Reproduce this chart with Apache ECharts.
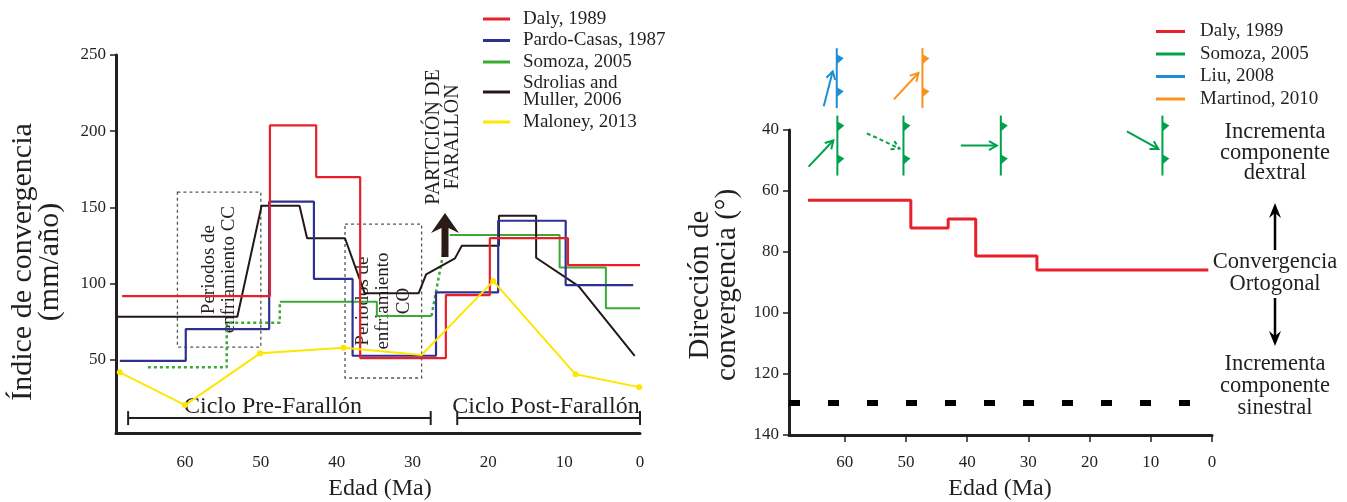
<!DOCTYPE html>
<html>
<head>
<meta charset="utf-8">
<script src="https://cdn.jsdelivr.net/npm/echarts@6/dist/echarts.min.js"></script>
<style>
  html, body { margin: 0; padding: 0; background: #fff; }
  #chart { width: 1347px; height: 502px; }
</style>
</head>
<body>
<div id="chart"></div>
<script>
// --- left panel: convergence rate (mm/año) vs age (Ma) ---
const DALY_RATE = [[68.3, 91.8], [48.8, 91.8], [48.8, 203.8], [42.7, 203.8], [42.7, 169.9], [36.9, 169.9],
  [36.9, 51.1], [25.6, 51.1], [25.6, 92.4], [19.8, 92.4], [19.8, 129.8], [9.5, 129.8], [9.5, 112.1], [0, 112.1]]
const PARDO_RATE = [[68.6, 49.3], [59.9, 49.3], [59.9, 70.1], [48.9, 70.1], [48.9, 153.7], [43.0, 153.7],
  [43.0, 103.0], [37.9, 103.0], [37.9, 52.6], [26.9, 52.6], [26.9, 94.2], [18.7, 94.2], [18.7, 141.2],
  [9.8, 141.2], [9.8, 99.0], [0.9, 99.0]]
const SOMOZA_SOLID_1 = [[47.5, 88.0], [34.7, 88.0], [34.7, 78.7], [27.5, 78.7]]
const SOMOZA_SOLID_2 = [[25.1, 131.8], [10.6, 131.8], [10.6, 110.6], [4.5, 110.6], [4.5, 83.7], [0, 83.7]]
const SOMOZA_DOTTED_1 = [[64.9, 45.0], [54.5, 45.0], [54.5, 74.3], [47.5, 74.3], [47.5, 88.0]]
const SOMOZA_DOTTED_2 = [[27.5, 78.7], [25.5, 131.8]]
const SDROLIAS_RATE = [[68.9, 78.2], [53.1, 78.2], [49.9, 151.1], [44.9, 151.1], [43.9, 129.7], [38.9, 129.7],
  [36.3, 93.6], [29.2, 93.6], [28.2, 106.0], [24.4, 116.5], [23.5, 124.8], [18.6, 124.8], [18.6, 144.5],
  [13.7, 144.5], [13.7, 116.9], [8.1, 98.3], [0.7, 52.6]]
const MALONEY_RATE = [[68.6, 41.7], [60.0, 20.2], [50.1, 54.2], [39.1, 57.8], [28.8, 53.1], [19.35, 101.6],
  [8.5, 40.4], [0.1, 32.0]]
const COOLING_CC = [[61.0, 160.0], [50.0, 58.3]]
const COOLING_CO = [[38.9, 139.0], [28.8, 38.0]]
const CYCLE_PRE = [[67.5, 11.7], [27.6, 11.7]]
const CYCLE_POST = [[24.1, 11.7], [0, 11.7]]
const RATE_TICKS = [50, 100, 150, 200, 250]
const AGE_TICKS = [0, 10, 20, 30, 40, 50, 60]

// --- right panel: convergence direction (°) vs age (Ma) ---
const DALY_DIR = [[66.0, 63], [49.2, 63], [49.2, 72.1], [43.1, 72.1], [43.1, 69.2], [38.6, 69.2],
  [38.6, 81.3], [28.6, 81.3], [28.6, 85.9], [0.6, 85.9]]
const SINESTRAL_LIMIT = [[69.1, 129.5], [-3.9, 129.5]]
const LIU_FAULTS = [[61.3, 23.0]]
const LIU_ANGLES = [75.5]
const MARTINOD_FAULTS = [[47.3, 23.0]]
const MARTINOD_ANGLES = [47]
const SOMOZA_FAULTS = [[61.2, 45.1], [50.4, 45.1], [34.5, 45.1], [8.1, 45.1]]
const SOMOZA_ANGLES = [46.5, -25, 0, -29]
const SOMOZA_DASHED = [false, true, false, false]

const FONT = '"Liberation Serif", "DejaVu Serif", serif'
const INK = '#231f20'
const C = {
  red: '#e8202a', blue: '#2e3192', green: '#3aaa35', black: '#231815', yellow: '#ffe600',
  green2: '#00a14b', liu: '#1c8fd6', orange: '#f7931e',
}

function faultRenderer(angles, dashed) {
  return function (params, api) {
    const p = api.coord([api.value(0), api.value(1)])
    const x = p[0], y = p[1]
    const color = api.visual('color')
    const a = angles[params.dataIndex] * Math.PI / 180
    const dash = dashed && dashed[params.dataIndex] ? [4, 3] : null
    const ux = Math.cos(a), uy = -Math.sin(a)
    const tx = x - 4, ty = y - 7 * Math.sin(a)
    const len = 36, h = 9, w = Math.PI / 6
    const rot = (vx, vy, t) => [vx * Math.cos(t) - vy * Math.sin(t), vx * Math.sin(t) + vy * Math.cos(t)]
    const b1 = rot(-ux, -uy, w), b2 = rot(-ux, -uy, -w)
    const tooth = (cy) => ({
      type: 'polygon',
      shape: { points: [[x, cy - 5], [x + 7, cy - 1], [x, cy + 5]] },
      style: { fill: color },
    })
    return {
      type: 'group',
      children: [
        { type: 'line', shape: { x1: x, y1: y - 30, x2: x, y2: y + 30 }, style: { stroke: color, lineWidth: 2 } },
        tooth(y - 19),
        tooth(y + 14),
        { type: 'line', shape: { x1: tx - len * ux, y1: ty - len * uy, x2: tx, y2: ty },
          style: { stroke: color, lineWidth: 2, lineDash: dash } },
        { type: 'polyline', shape: { points: [[tx + h * b1[0], ty + h * b1[1]], [tx, ty], [tx + h * b2[0], ty + h * b2[1]]] },
          style: { stroke: color, lineWidth: 2, fill: null, lineDash: dash } },
      ],
    }
  }
}

const lineBase = { type: 'line', symbol: 'none', xAxisIndex: 0, yAxisIndex: 0, z: 2 }
const axisText = { fontFamily: FONT, fontSize: 17, color: INK }
const blackLine = { onZero: false, lineStyle: { color: INK, width: 3 } }

const option = {
  animation: false,
  backgroundColor: '#fff',
  grid: [
    { left: 116, right: 707, top: 55, bottom: 69 },
    { left: 789, right: 135, top: 130, bottom: 67 },
  ],
  xAxis: [
    {
      gridIndex: 0, type: 'value', inverse: true, min: 0, max: 69.1, position: 'bottom',
      axisLine: blackLine, axisTick: { show: false }, splitLine: { show: false },
      axisLabel: { ...axisText, margin: 21, customValues: AGE_TICKS },
    },
    {
      gridIndex: 1, type: 'value', inverse: true, min: 0, max: 69.1, position: 'bottom',
      axisLine: blackLine, splitLine: { show: false },
      axisTick: { length: 7, lineStyle: { color: INK, width: 1.5 }, customValues: AGE_TICKS },
      axisLabel: { ...axisText, margin: 19, customValues: AGE_TICKS },
    },
  ],
  yAxis: [
    {
      gridIndex: 0, type: 'value', min: 1.9, max: 250, position: 'left',
      axisLine: { show: true, ...blackLine }, splitLine: { show: false },
      axisTick: { show: true, length: 6, lineStyle: { color: INK, width: 1.5 }, customValues: RATE_TICKS },
      axisLabel: { ...axisText, margin: 10, customValues: RATE_TICKS },
    },
    {
      gridIndex: 1, type: 'value', inverse: true, min: 40, max: 140, interval: 20, position: 'left',
      axisLine: { show: true, ...blackLine }, splitLine: { show: false },
      axisTick: { show: true, length: 6, lineStyle: { color: INK, width: 1.5 } },
      axisLabel: { ...axisText, margin: 10 },
    },
  ],
  legend: [
    {
      orient: 'vertical', left: 478, top: 4.5, icon: 'rect', itemWidth: 27, itemHeight: 3, itemGap: 2.5,
      textStyle: { fontFamily: FONT, fontSize: 19, lineHeight: 17, color: INK, padding: [0, 0, 0, 8] },
      data: ['Daly, 1989', 'Pardo-Casas, 1987', 'Somoza, 2005', 'Sdrolias and\nMuller, 2006', 'Maloney, 2013'],
    },
    {
      orient: 'vertical', left: 1151, top: 17, icon: 'rect', itemWidth: 29, itemHeight: 3, itemGap: 3.5,
      textStyle: { fontFamily: FONT, fontSize: 19, lineHeight: 19, color: INK, padding: [0, 0, 0, 10] },
      data: [
        { name: 'Daly, 1989', itemStyle: { color: C.red } },
        { name: 'Somoza, 2005', itemStyle: { color: C.green2 } },
        { name: 'Liu, 2008', itemStyle: { color: C.liu } },
        { name: 'Martinod, 2010', itemStyle: { color: C.orange } },
      ],
    },
  ],
  series: [
    { ...lineBase, name: 'Somoza, 2005', data: SOMOZA_SOLID_1, lineStyle: { color: C.green, width: 2 }, itemStyle: { color: C.green } },
    { ...lineBase, name: 'Somoza, 2005', data: SOMOZA_SOLID_2, lineStyle: { color: C.green, width: 2 }, itemStyle: { color: C.green } },
    { ...lineBase, name: 'Somoza, 2005', data: SOMOZA_DOTTED_1, lineStyle: { color: C.green, width: 2.5, type: [3, 3] }, itemStyle: { color: C.green } },
    { ...lineBase, name: 'Somoza, 2005', data: SOMOZA_DOTTED_2, lineStyle: { color: C.green, width: 2.5, type: [3, 3] }, itemStyle: { color: C.green } },
    { ...lineBase, name: 'Sdrolias and\nMuller, 2006', data: SDROLIAS_RATE, lineStyle: { color: C.black, width: 2 }, itemStyle: { color: C.black } },
    { ...lineBase, name: 'Pardo-Casas, 1987', data: PARDO_RATE, lineStyle: { color: C.blue, width: 2.2 }, itemStyle: { color: C.blue } },
    { ...lineBase, name: 'Daly, 1989', data: DALY_RATE, lineStyle: { color: C.red, width: 2.2 }, itemStyle: { color: C.red } },
    {
      ...lineBase, name: 'Maloney, 2013', data: MALONEY_RATE,
      symbol: (v, p) => (p.dataIndex === 4 ? 'none' : 'circle'), symbolSize: 6, showSymbol: true,
      lineStyle: { color: C.yellow, width: 2 }, itemStyle: { color: C.yellow },
    },
    {
      ...lineBase, name: 'cycle-pre', data: CYCLE_PRE, z: 5,
      symbol: 'rect', symbolSize: [2, 14], showSymbol: true,
      lineStyle: { color: INK, width: 2 }, itemStyle: { color: INK },
      markArea: {
        silent: true,
        itemStyle: { color: 'rgba(255,255,255,0.72)', borderColor: '#555', borderWidth: 1.3, borderType: [3, 3] },
        label: { show: true, position: 'inside', rotate: 90, fontFamily: FONT, fontSize: 19, lineHeight: 20.5, color: INK },
        data: [
          [{ coord: COOLING_CC[0], name: 'Periodos de\nenfriamiento CC' }, { coord: COOLING_CC[1] }],
          [{ coord: COOLING_CO[0], name: 'Periodos de\nenfriamiento\nCO' }, { coord: COOLING_CO[1] }],
        ],
      },
    },
    {
      ...lineBase, name: 'cycle-post', data: CYCLE_POST, z: 5,
      symbol: 'rect', symbolSize: [2, 14], showSymbol: true,
      lineStyle: { color: INK, width: 2 }, itemStyle: { color: INK },
    },
    // right panel
    {
      type: 'line', name: 'Daly, 1989', xAxisIndex: 1, yAxisIndex: 1, symbol: 'none', data: DALY_DIR,
      lineStyle: { color: C.red, width: 3 }, itemStyle: { color: C.red },
    },
    {
      type: 'line', name: 'sinestral', xAxisIndex: 1, yAxisIndex: 1, symbol: 'none', clip: false,
      data: SINESTRAL_LIMIT, lineStyle: { color: '#000', width: 6, type: [11, 28] },
    },
    {
      type: 'custom', name: 'Somoza, 2005', xAxisIndex: 1, yAxisIndex: 1, data: SOMOZA_FAULTS,
      itemStyle: { color: C.green2 }, renderItem: faultRenderer(SOMOZA_ANGLES, SOMOZA_DASHED),
    },
    {
      type: 'custom', name: 'Liu, 2008', xAxisIndex: 1, yAxisIndex: 1, data: LIU_FAULTS,
      itemStyle: { color: C.liu }, renderItem: faultRenderer(LIU_ANGLES),
    },
    {
      type: 'custom', name: 'Martinod, 2010', xAxisIndex: 1, yAxisIndex: 1, data: MARTINOD_FAULTS,
      itemStyle: { color: C.orange }, renderItem: faultRenderer(MARTINOD_ANGLES),
    },
  ],
  graphic: [
    { type: 'text', x: 37, y: 262, rotation: Math.PI / 2,
      style: { text: 'Índice de convergencia\n(mm/año)', font: `30px ${FONT}`, lineHeight: 27, fill: INK, align: 'center', verticalAlign: 'middle' } },
    { type: 'text', x: 380, y: 489,
      style: { text: 'Edad (Ma)', font: `24px ${FONT}`, fill: INK, align: 'center', verticalAlign: 'middle' } },
    { type: 'text', x: 273, y: 407,
      style: { text: 'Ciclo Pre-Farallón', font: `24px ${FONT}`, fill: INK, align: 'center', verticalAlign: 'middle' } },
    { type: 'text', x: 546, y: 407,
      style: { text: 'Ciclo Post-Farallón', font: `24px ${FONT}`, fill: INK, align: 'center', verticalAlign: 'middle' } },
    { type: 'text', x: 443.5, y: 137, rotation: Math.PI / 2, z: 20,
      style: { text: 'PARTICIÓN DE\nFARALLÓN', font: `20px ${FONT}`, lineHeight: 19, fill: INK, align: 'center', verticalAlign: 'middle' } },
    { type: 'polygon', z: 20,
      shape: { points: [[445, 213], [459, 233], [448.5, 228], [448.5, 257], [441.5, 257], [441.5, 228], [431, 233]] },
      style: { fill: '#2b1b17' } },
    // right panel texts
    { type: 'text', x: 714, y: 285, rotation: Math.PI / 2,
      style: { text: 'Dirección de\nconvergencia (°)', font: `29px ${FONT}`, lineHeight: 27, fill: INK, align: 'center', verticalAlign: 'middle' } },
    { type: 'text', x: 1000, y: 489,
      style: { text: 'Edad (Ma)', font: `24px ${FONT}`, fill: INK, align: 'center', verticalAlign: 'middle' } },
    { type: 'text', x: 1275, y: 153,
      style: { text: 'Incrementa\ncomponente\ndextral', font: `22.5px ${FONT}`, lineHeight: 20.5, fill: INK, align: 'center', verticalAlign: 'middle' } },
    { type: 'text', x: 1275, y: 273,
      style: { text: 'Convergencia\nOrtogonal', font: `22.5px ${FONT}`, lineHeight: 22, fill: INK, align: 'center', verticalAlign: 'middle' } },
    { type: 'text', x: 1275, y: 386,
      style: { text: 'Incrementa\ncomponente\nsinestral', font: `22.5px ${FONT}`, lineHeight: 22, fill: INK, align: 'center', verticalAlign: 'middle' } },
    { type: 'line', shape: { x1: 1275, y1: 250, x2: 1275, y2: 210 }, style: { stroke: '#000', lineWidth: 2.5 } },
    { type: 'polygon', shape: { points: [[1275, 203], [1281, 218], [1275, 213], [1269, 218]] }, style: { fill: '#000' } },
    { type: 'line', shape: { x1: 1275, y1: 298, x2: 1275, y2: 338 }, style: { stroke: '#000', lineWidth: 2.5 } },
    { type: 'polygon', shape: { points: [[1275, 346], [1281, 331], [1275, 336], [1269, 331]] }, style: { fill: '#000' } },
  ],
}

const chart = echarts.init(document.getElementById('chart'))
chart.setOption(option)
window.addEventListener('resize', () => chart.resize())
</script>
</body>
</html>
